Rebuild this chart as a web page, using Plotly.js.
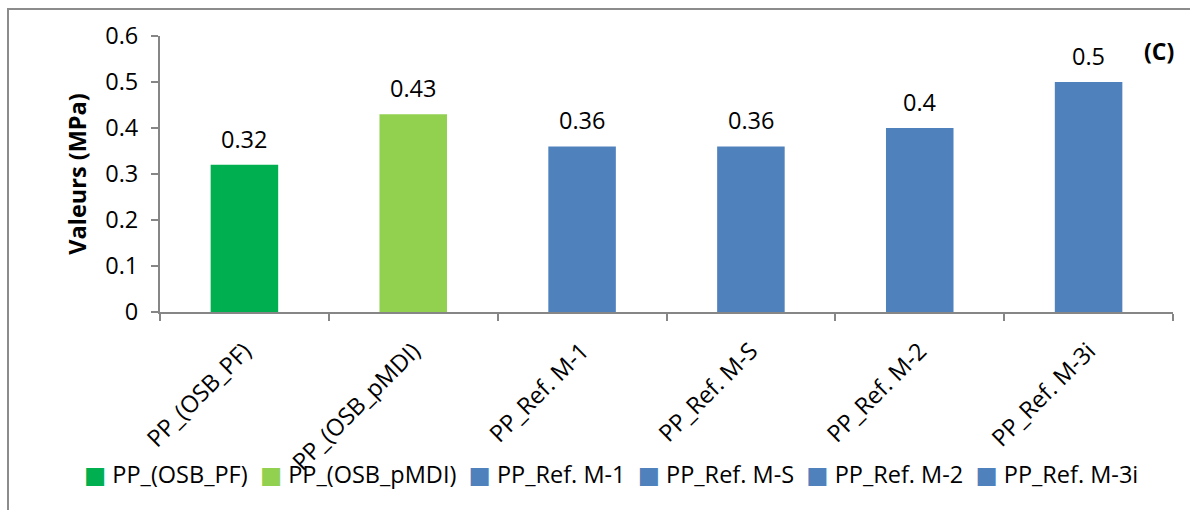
<!DOCTYPE html>
<html>
<head>
<meta charset="utf-8">
<script src="https://cdn.plot.ly/plotly-3.0.1.min.js"></script>
<style>
  html, body { margin: 0; padding: 0; background: #fff; overflow: hidden; }
  #wrap { position: relative; width: 1190px; height: 510px; }
  #frame { position: absolute; left: 7px; top: 8px; width: 1200px; height: 520px;
           border-left: 2px solid #8c8c8c; border-top: 2px solid #8c8c8c; pointer-events: none; }
  #chart { position: absolute; left: 0; top: 0; width: 1190px; height: 510px; }
</style>
</head>
<body>
<div id="wrap">
  <div id="chart"></div>
  <div id="frame"></div>
</div>
<script>
const categories = ["PP_(OSB_PF)", "PP_(OSB_pMDI)", "PP_Ref. M-1", "PP_Ref. M-S", "PP_Ref. M-2", "PP_Ref. M-3i"];
const values = [0.32, 0.43, 0.36, 0.36, 0.4, 0.5];
const labels = ["0.32", "0.43", "0.36", "0.36", "0.4", "0.5"];
const colors = ["#00B050", "#92D050", "#4F81BD", "#4F81BD", "#4F81BD", "#4F81BD"];
const yTicks = [0, 0.1, 0.2, 0.3, 0.4, 0.5, 0.6];
const yTickText = ["0", "0.1", "0.2", "0.3", "0.4", "0.5", "0.6"];

const FONT = "Open Sans, Noto Sans, sans-serif";
const FS = 23.5;

const traces = categories.map((c, i) => ({
  type: "bar",
  x: [c],
  y: [values[i]],
  name: c,
  marker: { color: colors[i] },
  width: 0.4,
  showlegend: false,
  hoverinfo: "x+y"
}));

const annotations = categories.map((c, i) => ({
  x: c, y: values[i], xref: "x", yref: "y",
  text: labels[i], showarrow: false,
  yanchor: "middle", yshift: 26,
  font: { family: FONT, size: FS, color: "#000" }
}));
annotations.push({
  x: 0.986, y: 0.945, xref: "paper", yref: "paper",
  text: "<b>(C)</b>", showarrow: false, xanchor: "center", yanchor: "middle",
  font: { family: FONT, size: 23, color: "#000" }
});

// Legend row (Excel-style compact legend), built from the series arrays
const NB = "\u00A0";
const legendText = categories.map((c, i) =>
  "<span style=\"color:" + colors[i] + ";font-family:DejaVu Sans\">\u25A0</span>" + NB + c
).join(NB + NB);
annotations.push({
  x: 0.445, y: -0.587, xref: "paper", yref: "paper",
  text: legendText, showarrow: false, xanchor: "center", yanchor: "middle",
  font: { family: FONT, size: FS, color: "#000" }
});

const layout = {
  width: 1190, height: 510,
  margin: { l: 160, r: 17, t: 36, b: 198 },
  paper_bgcolor: "rgba(0,0,0,0)",
  plot_bgcolor: "rgba(0,0,0,0)",
  barmode: "overlay",
  showlegend: false,
  font: { family: FONT, color: "#000" },
  xaxis: {
    type: "category",
    categoryorder: "array", categoryarray: categories,
    showline: true, linecolor: "#868686", linewidth: 2,
    ticks: "outside", tickson: "boundaries", ticklen: 7, tickcolor: "#868686", tickwidth: 2,
    tickangle: -45, ticklabelstandoff: 14,
    tickfont: { family: FONT, size: FS, color: "#000" },
    showgrid: false, zeroline: false, fixedrange: true
  },
  yaxis: {
    range: [0, 0.6],
    tickvals: yTicks, ticktext: yTickText,
    showline: true, linecolor: "#868686", linewidth: 2,
    ticks: "outside", ticklen: 7, tickcolor: "#868686", tickwidth: 2,
    ticklabelstandoff: 8,
    tickfont: { family: FONT, size: FS, color: "#000" },
    showgrid: false, zeroline: false, fixedrange: true,
    title: { text: "<b>Valeurs (MPa)</b>", font: { family: FONT, size: 23.5, color: "#000" }, standoff: 12 }
  },
  annotations: annotations
};

Plotly.newPlot("chart", traces, layout, { displayModeBar: false, staticPlot: true });
</script>
</body>
</html>
